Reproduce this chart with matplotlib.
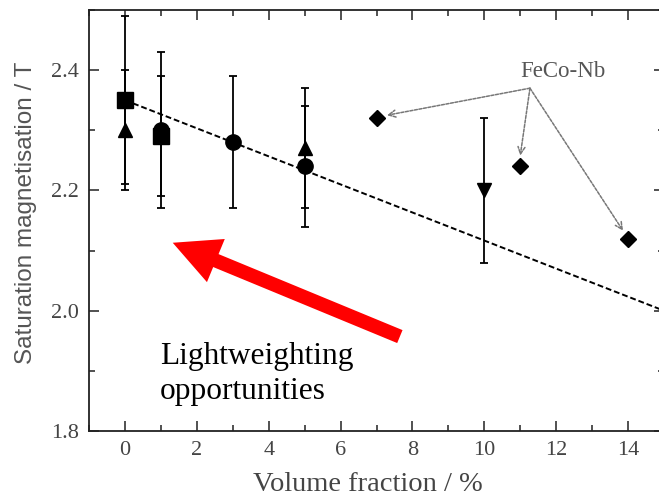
import matplotlib
matplotlib.use("Agg")
import matplotlib.pyplot as plt
from matplotlib.ticker import MultipleLocator

# ---- data ----
square_x = [0, 1]
square_y = [2.35, 2.29]
square_err = [0.14, 0.10]

tri_up_x = [0, 5]
tri_up_y = [2.30, 2.27]
tri_up_err = [0.10, 0.10]

circle_x = [1, 3, 5]
circle_y = [2.30, 2.28, 2.24]
circle_err = [0.13, 0.11, 0.10]

tri_down_x = [10]
tri_down_y = [2.20]
tri_down_err = [0.12]

diamond_x = [7, 11, 14]
diamond_y = [2.32, 2.24, 2.12]

fit_x = [0, 15]
fit_y = [2.35, 2.00]

xticks = [0, 2, 4, 6, 8, 10, 12, 14]
yticks = [1.8, 2.0, 2.2, 2.4]

label_anchor = (11.27, 2.37)
label_targets = [(7.29, 2.325), (11.0, 2.258), (13.86, 2.133)]

SERIF = "Liberation Serif"
SANS = "Liberation Sans"
tick_col = "#444444"

fig = plt.figure(figsize=(6.59, 4.99), dpi=100)
W, H = 659, 499
ax = fig.add_axes([89 / W, 1 - 431 / H, (664 - 89) / W, (431 - 10) / H])

ax.plot(fit_x, fit_y, color="black", lw=1.4, ls=(0, (3, 1.5)), zorder=2)

ekw = dict(ecolor="black", elinewidth=1.3, capsize=3, capthick=1.3, ls="none", zorder=3)
ax.errorbar(square_x, square_y, yerr=square_err, fmt="s", color="black", ms=11, **ekw)
ax.errorbar(tri_up_x, tri_up_y, yerr=tri_up_err, fmt="^", color="black", ms=10, **ekw)
ax.errorbar(circle_x, circle_y, yerr=circle_err, fmt="o", color="black", ms=11, **ekw)
ax.errorbar(tri_down_x, tri_down_y, yerr=tri_down_err, fmt="v", color="black", ms=10, **ekw)
ax.plot(diamond_x, diamond_y, "D", color="black", ms=8, ls="none", zorder=4)

for tx, ty in label_targets:
    ax.annotate("", xy=(tx, ty), xytext=label_anchor,
                arrowprops=dict(arrowstyle="->,head_length=0.5,head_width=0.25",
                                color="#777777", lw=1.1, ls=(0, (2, 1)),
                                shrinkA=0, shrinkB=0), zorder=3)
ax.text(12.2, 2.389, "FeCo-Nb", fontsize=16.5, family=SERIF, color="#555555",
        ha="center", va="baseline")

# red arrow
ax.annotate("", xy=(1.33, 2.113), xytext=(7.65, 1.957),
            arrowprops=dict(arrowstyle="simple,head_length=1.2,head_width=1.2,tail_width=0.36",
                            mutation_scale=28, color="#ff0000", lw=0,
                            shrinkA=0, shrinkB=0), zorder=5)

ax.text(0.97, 1.912, "Lightweighting", fontsize=22.6, family=SERIF,
        color="black", ha="left", va="baseline")
ax.text(0.97, 1.853, "opportunities", fontsize=22.6, family=SERIF,
        color="black", ha="left", va="baseline")

ax.set_xlim(-1, 15)
ax.set_ylim(1.8, 2.5)
ax.set_xticks(xticks)
ax.set_yticks(yticks)
ax.set_yticklabels([f"{v:.1f}" for v in yticks])
ax.xaxis.set_minor_locator(MultipleLocator(1))
ax.yaxis.set_minor_locator(MultipleLocator(0.1))
ax.tick_params(which="both", direction="in", top=True, right=True, colors="#333333",
               labelcolor=tick_col, labelsize=16, width=1.2)
ax.tick_params(which="major", length=7)
ax.tick_params(which="minor", length=4)
ax.tick_params(axis="x", pad=7)
ax.tick_params(axis="y", pad=7)
for lab in ax.get_xticklabels() + ax.get_yticklabels():
    lab.set_family(SERIF)
for s in ax.spines.values():
    s.set_linewidth(1.3)
    s.set_color("#222222")

ax.set_xlabel("Volume fraction / %", fontsize=20.5, family=SERIF, color="#444444")
ax.set_ylabel("Saturation magnetisation / T", fontsize=17.5, family=SANS, color="#555555")
ax.xaxis.set_label_coords(0.485, -0.098)
ax.yaxis.set_label_coords(-0.090, 0.519)

fig.savefig("out.png", dpi=100)
